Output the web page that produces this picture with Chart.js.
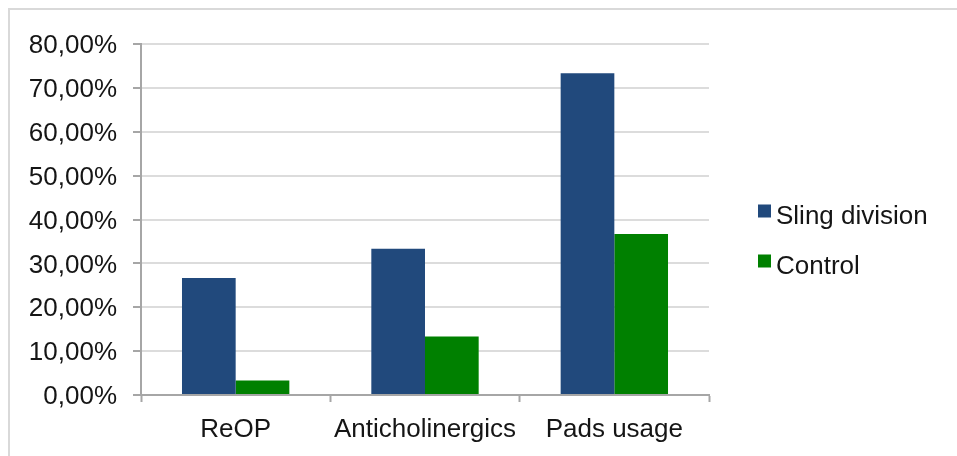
<!DOCTYPE html>
<html>
<head>
<meta charset="utf-8">
<script src="https://cdn.jsdelivr.net/npm/chart.js@4.4.1/dist/chart.umd.min.js"></script>
<style>
  html, body { margin: 0; padding: 0; background: #fff; overflow: hidden; }
  #frame { position: absolute; left: 8px; top: 8px; width: 1200px; height: 800px; border: 2px solid #d9d9d9; }
  #c { position: absolute; left: 0; top: 0; }
</style>
</head>
<body>
<div id="frame"></div>
<canvas id="c" width="957" height="456"></canvas>
<script>
// Categories and series (percent)
const categories = ['ReOP', 'Anticholinergics', 'Pads usage'];
const slingDivision = [26.67, 33.33, 73.33];
const control = [3.33, 13.33, 36.67];
const yTickValues = [0, 10, 20, 30, 40, 50, 60, 70, 80];

const FONT = '"Liberation Sans", Arial, sans-serif';
const TEXT = '#151515';
const SIZE = 26;

// Legend drawn to the right of the plot, beside the bars
const sideLegend = {
  id: 'sideLegend',
  afterDraw(chart) {
    const { ctx, chartArea } = chart;
    ctx.save();
    ctx.font = SIZE + 'px ' + FONT;
    ctx.textBaseline = 'alphabetic';
    ctx.textAlign = 'left';
    chart.data.datasets.forEach((ds, i) => {
      const base = chartArea.top + 179.5 + i * 50;
      ctx.fillStyle = ds.backgroundColor;
      ctx.fillRect(chartArea.right + 49, base - 19, 13, 13);
      ctx.fillStyle = TEXT;
      ctx.fillText(ds.label, chartArea.right + 67, base);
    });
    ctx.restore();
  }
};

new Chart(document.getElementById('c'), {
  type: 'bar',
  data: {
    labels: categories,
    datasets: [
      { label: 'Sling division', data: slingDivision, backgroundColor: '#21497c' },
      { label: 'Control', data: control, backgroundColor: '#008000' }
    ]
  },
  options: {
    responsive: false,
    animation: false,
    devicePixelRatio: 1,
    categoryPercentage: 0.567,
    barPercentage: 1,
    layout: { padding: { left: 0, top: 44, right: 248, bottom: 0 } },
    plugins: {
      legend: { display: false },
      tooltip: { enabled: false }
    },
    scales: {
      x: {
        afterFit(scale) { scale.height = 61; },
        grid: {
          display: true,
          drawOnChartArea: false,
          drawTicks: true,
          tickLength: 7,
          tickColor: '#a6a6a6',
          tickWidth: 2,
          offset: true
        },
        border: { display: true, color: '#a6a6a6', width: 2 },
        ticks: {
          font: { family: FONT, size: SIZE },
          color: TEXT,
          padding: 12,
          maxRotation: 0
        }
      },
      y: {
        min: 0,
        max: 80,
        afterFit(scale) { scale.width = 141; },
        afterBuildTicks(scale) { scale.ticks = yTickValues.map(v => ({ value: v })); },
        grid: {
          color: '#dcdcdc',
          lineWidth: 2,
          tickLength: 8,
          tickColor: '#a6a6a6',
          tickWidth: 2
        },
        border: { display: true, color: '#a6a6a6', width: 2 },
        ticks: {
          font: { family: FONT, size: SIZE },
          color: TEXT,
          padding: 16,
          labelOffset: 2,
          callback: v => v.toFixed(2).replace('.', ',') + '%'
        }
      }
    }
  },
  plugins: [sideLegend]
});
</script>
</body>
</html>
